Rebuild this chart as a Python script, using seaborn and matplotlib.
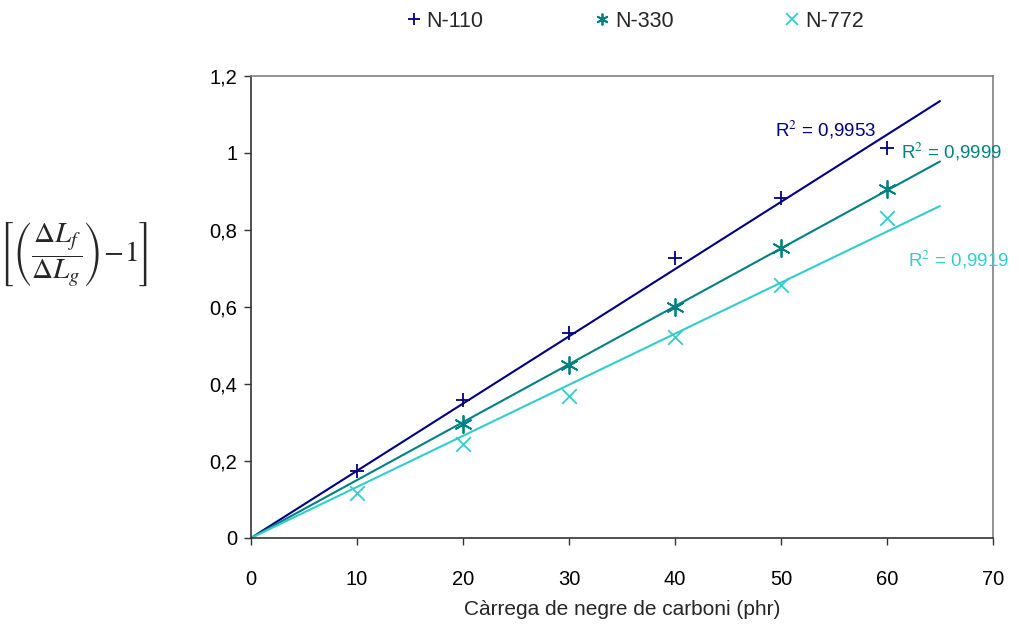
import numpy as np
import pandas as pd
import matplotlib
matplotlib.use("Agg")
import matplotlib.pyplot as plt
import seaborn as sns

# Carbon black loading (phr) and relative swelling response per grade
loading = [10, 20, 30, 40, 50, 60]
n110 = [0.174, 0.358, 0.532, 0.727, 0.883, 1.013]
n330 = [None, 0.296, 0.449, 0.600, 0.753, 0.906]
n772 = [0.117, 0.244, 0.369, 0.522, 0.657, 0.831]
r2_labels = ["0,9953", "0,9999", "0,9919"]
series_names = ["N-110", "N-330", "N-772"]
colors = ["#000080", "#008080", "#33CCCC"]
markers = ["+", (6, 2, 0), "x"]
x_ticks = [0, 10, 20, 30, 40, 50, 60, 70]
y_ticks = [0, 0.2, 0.4, 0.6, 0.8, 1.0, 1.2]
y_tick_labels = ["0", "0,2", "0,4", "0,6", "0,8", "1", "1,2"]

sns.set_style("white")
plt.rcParams["font.family"] = ["Liberation Sans", "DejaVu Sans"]
plt.rcParams["mathtext.fontset"] = "stix"

fig = plt.figure(figsize=(10.18, 6.26), dpi=100)
ax = fig.add_axes([0.2466, 0.1406, 0.7288, 0.738])

label_pos = [(49.4, 1.06), (61.3, 1.003), (62.0, 0.722)]
marker_sizes = [110, 150, 110]
handles = []
for name, vals, col, mk, ms, r2, (lx, ly) in zip(series_names, [n110, n330, n772],
                                                 colors, markers, marker_sizes,
                                                 r2_labels, label_pos):
    df = pd.DataFrame({"x": loading, "y": vals}).dropna()
    # linear trend forced through the origin
    slope = (df.x * df.y).sum() / (df.x ** 2).sum()
    fit = pd.DataFrame({"x": [0, 65], "y": [0, 65 * slope]})
    sns.lineplot(data=fit, x="x", y="y", color=col, lw=1.5, ax=ax, legend=False)
    sns.scatterplot(data=df, x="x", y="y", marker=mk, color=col, s=ms,
                    linewidth=1.3, ax=ax, legend=False, zorder=3)
    ax.text(lx, ly, "R$^{2}$ = " + r2, color=col, fontsize=13.5, va="center",
            ha="left", family="Liberation Sans")
    handles.append(plt.Line2D([], [], marker=mk, color=col, ls="none",
                              markersize=8.5, markeredgewidth=1.3, label=name))

ax.set_xlim(0, 70)
ax.set_ylim(0, 1.2)
ax.set_xticks(x_ticks)
ax.set_yticks(y_ticks)
ax.set_yticklabels(y_tick_labels)
ax.tick_params(axis="both", direction="out", length=5, width=1, labelsize=14.5,
               colors="#333333", labelcolor="black", bottom=True, left=True)
ax.tick_params(axis="x", pad=18)
ax.tick_params(axis="y", pad=5)
for side in ["left", "bottom"]:
    ax.spines[side].set_color("#333333")
    ax.spines[side].set_linewidth(1.2)
for side in ["top", "right"]:
    ax.spines[side].set_color("#808080")
    ax.spines[side].set_linewidth(1.2)

ax.set_xlabel("Càrrega de negre de carboni (phr)", fontsize=15, labelpad=8)
ax.set_ylabel("")
fig.text(0.072, 0.593,
         r"$\left[\left(\dfrac{\Delta L_f}{\Delta L_g}\right)\!-\!1\right]$",
         fontsize=21, ha="center", va="center")

fig.legend(handles=handles, loc="center", bbox_to_anchor=(0.622, 0.966), ncol=3,
           frameon=False, fontsize=15.5, columnspacing=5.0, handletextpad=0.1,
           handlelength=1.0)

fig.savefig("out.png", dpi=100)
